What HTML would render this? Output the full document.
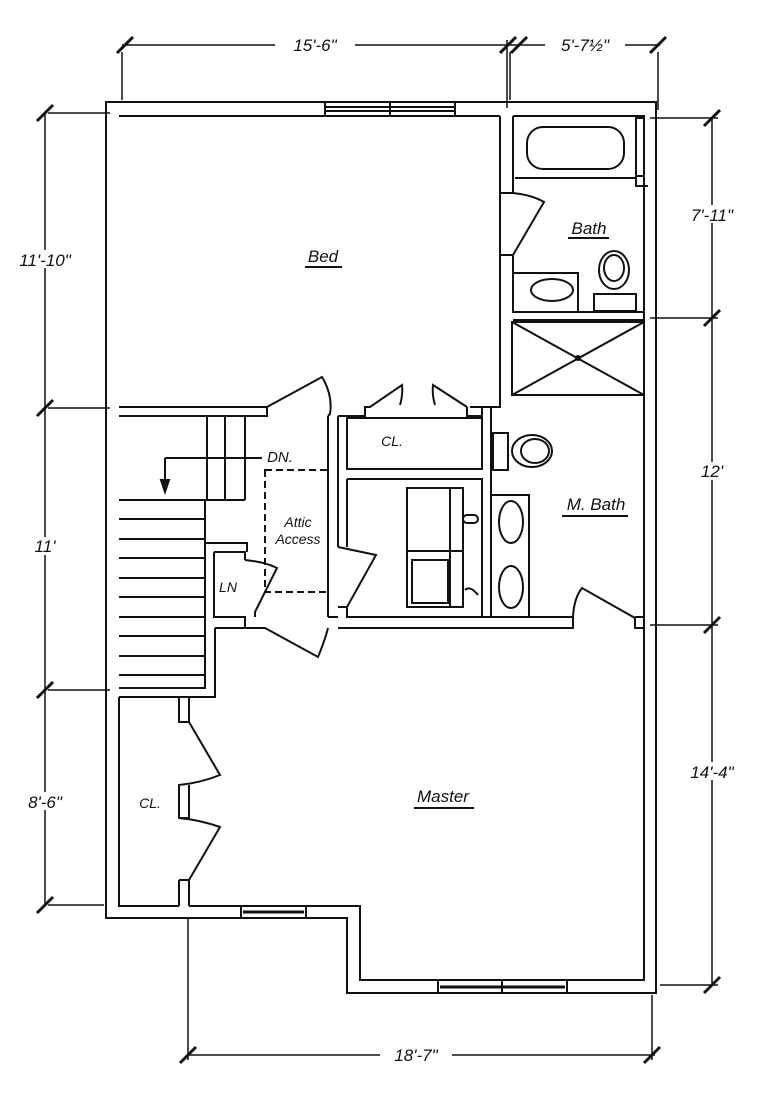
<!DOCTYPE html>
<html><head><style>body{margin:0;background:#fff}svg{display:block}
text{font-family:"Liberation Sans",sans-serif;font-style:italic;fill:#111}</style></head><body>
<svg width="768" height="1103" viewBox="0 0 768 1103" xmlns="http://www.w3.org/2000/svg">
<g fill="none" stroke="#111" stroke-width="2">
<!-- outer walls -->
<path d="M106 102 H656 V993 H347 V918 H106 Z"/>
<path d="M119 116 H500 M513 116 H644 V980 H360 V906 H189 M179 906 H119 V697"/>
<!-- top window -->
<rect x="325" y="102" width="130" height="14" fill="#fff"/><line x1="325" y1="107" x2="455" y2="107"/><line x1="325" y1="111" x2="455" y2="111"/><line x1="390" y1="102" x2="390" y2="116"/>
<rect x="241" y="906" width="65" height="12" fill="#fff"/><line x1="243" y1="912" x2="304" y2="912" stroke-width="3"/>
<rect x="438" y="980" width="129" height="13" fill="#fff"/><line x1="440" y1="987" x2="565" y2="987" stroke-width="3"/><line x1="502" y1="980" x2="502" y2="993"/>
<!-- Bed/bath wall -->
<path d="M500 116 V407 H470 M513 116 V193 M513 255 V312 M500 193 H513 M500 255 H513"/>
<path d="M513 193 Q532 195 544 202 L513 255"/>
<!-- bath -->
<rect x="527" y="127" width="97" height="42" rx="16"/>
<path d="M515 178 H636 V186 H648"/>
<rect x="636" y="118" width="8" height="58"/>
<rect x="513" y="273" width="65" height="39"/>
<ellipse cx="552" cy="290" rx="21" ry="11"/>
<ellipse cx="614" cy="270" rx="15" ry="19"/><ellipse cx="614" cy="268" rx="10" ry="13"/>
<rect x="594" y="294" width="42" height="17"/>
<path d="M513 312 H644 M513 320 H644"/>
<rect x="512" y="322" width="132" height="73"/>
<path d="M512 322 L644 395 M644 322 L512 395"/>
<circle cx="578" cy="358" r="2" fill="#111"/>
<!-- hall top walls -->
<path d="M119 407 H267 M119 416 H267 V407 M267 407 L322 377 Q333 395 330 414 L328 416 M338 416 H365 V407 H370 L402 385 Q403 395 400 405 M467 407 L433 385 Q432 395 435 405 M467 407 V416 H482 V407 H470 M491 416 V407 H500"/>
<path d="M328 416 V545 M338 416 V547 M328 545 V617"/>
<!-- closet -->
<rect x="347" y="418" width="135" height="51"/>
<!-- laundry -->
<path d="M347 479 H482 V617 H347 V607"/>
<path d="M347 479 V547"/>
<rect x="407" y="488" width="56" height="119"/><path d="M407 551 H463 M450 488 V607"/>
<rect x="412" y="560" width="36" height="43"/>
<rect x="463" y="515" width="15" height="8" rx="4"/>
<path d="M465 590 Q470 585 478 595" />
<path d="M338 547 L376 555 L347 607 M338 607 H347"/>
<!-- m bath -->
<path d="M491 416 V617 M482 617 H573 M328 617 H338"/>
<rect x="491" y="495" width="38" height="122"/>
<ellipse cx="511" cy="522" rx="12" ry="21"/><ellipse cx="511" cy="587" rx="12" ry="21"/>
<rect x="493" y="433" width="15" height="37"/><ellipse cx="532" cy="451" rx="20" ry="16"/><ellipse cx="535" cy="451" rx="14" ry="12"/>
<path d="M573 617 Q574 598 582 588 L635 618 V628 H644 M635 617 H644"/>
<path d="M338 628 H573 V617"/>
<!-- stairs -->
<path d="M207 416 V500 M225 416 V500 M245 416 V500 M119 500 H245"/>
<path d="M119 519 H205 M119 539 H205 M119 558 H205 M119 578 H205 M119 597 H205 M119 617 H205 M119 636 H205 M119 656 H205 M119 675 H205"/>
<path d="M205 500 V688 H119 M119 697 H215 V628 M205 543 H247 V552 M214 552 V617 H245 V628 M214 552 H245 V560"/>
<path d="M245 560 Q265 562 277 568 L255 612 V617"/>
<path d="M215 628 H265 L318 657 Q325 640 328 628"/>
<path d="M165 458 H262 M165 458 V490"/><path d="M161 480 L165 492 L169 480 Z" fill="#111"/>
<rect x="265" y="470" width="63" height="122" stroke-dasharray="7,4"/>
<!-- left closet -->
<path d="M179 697 V722 H189 V697 M189 722 L220 775 Q200 783 179 785 V818 H189 V785 M179 818 Q200 820 220 827 L189 880 V906 M179 880 V906 M179 880 H189"/>
<!-- dims -->
<g stroke-width="1.5">
<path d="M122 45 H660 M122 52 V100 M510 52 V100 M507 40 V108 M658 52 V110"/>
<path d="M45 113 V905 M48 113 H110 M48 408 H110 M48 690 H110 M48 905 H104"/>
<path d="M712 118 V985 M650 118 H718 M650 318 H718 M650 625 H718 M660 985 H718"/>
<path d="M188 1055 H655 M188 918 V1060 M652 995 V1060"/>
</g>
<g stroke-width="3">
<path d="M117 53 L133 37 M500 53 L516 37 M511 53 L527 37 M650 53 L666 37"/>
<path d="M37 121 L53 105 M37 416 L53 400 M37 698 L53 682 M37 913 L53 897"/>
<path d="M704 126 L720 110 M704 326 L720 310 M704 633 L720 617 M704 993 L720 977"/>
<path d="M180 1063 L196 1047 M644 1063 L660 1047"/>
</g>
</g>
<g font-size="17" text-anchor="middle">
<rect x="275" y="38" width="80" height="14" fill="#fff"/>
<text x="315" y="51">15'-6"</text>
<rect x="545" y="38" width="80" height="14" fill="#fff"/>
<text x="585" y="51">5'-7½"</text>
<rect x="15" y="250" width="60" height="18" fill="#fff"/><text x="45" y="266">11'-10"</text>
<rect x="30" y="537" width="30" height="18" fill="#fff"/><text x="45" y="552">11'</text>
<rect x="15" y="792" width="60" height="18" fill="#fff"/><text x="45" y="808">8'-6"</text>
<rect x="690" y="205" width="48" height="18" fill="#fff"/><text x="712" y="221">7'-11"</text>
<rect x="698" y="462" width="28" height="18" fill="#fff"/><text x="712" y="477">12'</text>
<rect x="686" y="762" width="54" height="18" fill="#fff"/><text x="712" y="778">14'-4"</text>
<rect x="380" y="1047" width="72" height="18" fill="#fff"/><text x="416" y="1061">18'-7"</text>
<text x="323" y="262">Bed</text><path d="M305 267 H342" stroke="#111" stroke-width="2"/>
<text x="589" y="234">Bath</text><path d="M568 238 H609" stroke="#111" stroke-width="2"/>
<text x="596" y="510">M. Bath</text><path d="M562 516 H628" stroke="#111" stroke-width="2"/>
<text x="443" y="802">Master</text><path d="M414 808 H474" stroke="#111" stroke-width="2"/>
<text x="392" y="446" font-size="14">CL.</text>
<text x="150" y="808" font-size="14">CL.</text>
<text x="280" y="462" font-size="15">DN.</text>
<text x="298" y="527" font-size="14">Attic</text>
<text x="298" y="544" font-size="14">Access</text>
<text x="228" y="592" font-size="14">LN</text>
</g>
</svg>
</body></html>
